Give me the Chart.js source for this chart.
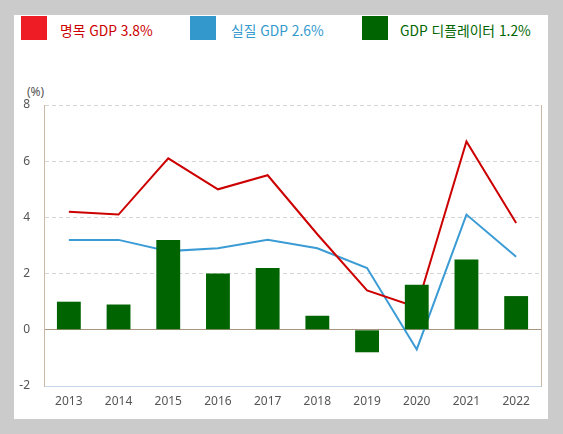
<!DOCTYPE html>
<html lang="ko">
<head>
<meta charset="utf-8">
<script src="https://cdn.jsdelivr.net/npm/chart.js@4/dist/chart.umd.min.js"></script>
<style>
  html, body { margin: 0; padding: 0; }
  body { width: 563px; height: 434px; background: #cbcbcb; position: relative; overflow: hidden;
         font-family: "Noto Sans CJK KR", "Noto Sans", sans-serif; }
  #panel { position: absolute; left: 14px; top: 15px; width: 534px; height: 404px; background: #fff; }
  #chart { position: absolute; left: 0; top: 0; }
  .box { position: absolute; top: 16px; width: 26px; height: 24px; }
  .lbl { position: absolute; top: 21px; font-size: 13.8px; line-height: 19px; white-space: nowrap; }
  #unit { position: absolute; left: 27px; top: 83px; font-size: 12px; color: #555; font-family: "Noto Sans", sans-serif; }
</style>
</head>
<body>
<div id="panel"></div>
<div class="box" style="left:21px;background:#ee1c25"></div>
<div class="lbl" style="left:60px;color:#cc0000">명목 GDP 3.8%</div>
<div class="box" style="left:190px;background:#3399cc"></div>
<div class="lbl" style="left:231px;color:#3399cc">실질 GDP 2.6%</div>
<div class="box" style="left:362px;background:#006400"></div>
<div class="lbl" style="left:400px;color:#006600">GDP 디플레이터 1.2%</div>
<div id="unit">(%)</div>
<canvas id="chart" width="563" height="434"></canvas>
<script>
// ── data ──
const years     = ['2013','2014','2015','2016','2017','2018','2019','2020','2021','2022'];
const nominal   = [4.2, 4.1, 6.1, 5.0, 5.5, 3.4, 1.4, 0.8, 6.7, 3.8];
const real      = [3.2, 3.2, 2.8, 2.9, 3.2, 2.9, 2.2, -0.7, 4.1, 2.6];
const deflator  = [1.0, 0.9, 3.2, 2.0, 2.2, 0.5, -0.8, 1.6, 2.5, 1.2];
const yTicks    = [-2, 0, 2, 4, 6, 8];

const tickFont = { family: '"Noto Sans", sans-serif', size: 12 };

new Chart(document.getElementById('chart'), {
  data: {
    labels: years,
    datasets: [
      { type: 'bar', label: 'GDP 디플레이터', data: deflator, order: 0,
        backgroundColor: '#006400', categoryPercentage: 0.96, barPercentage: 0.5 },
      { type: 'line', label: '명목 GDP', data: nominal, order: 1,
        borderColor: '#cc0000', borderWidth: 2, pointRadius: 0, tension: 0 },
      { type: 'line', label: '실질 GDP', data: real, order: 2,
        borderColor: '#3a9bd5', borderWidth: 2, pointRadius: 0, tension: 0 }
    ]
  },
  options: {
    responsive: false,
    animation: false,
    layout: { padding: { top: 105, right: 22, left: 0, bottom: 0 } },
    plugins: { legend: { display: false }, tooltip: { enabled: false } },
    scales: {
      x: {
        offset: true,
        grid: { display: false, drawTicks: false },
        border: { color: '#c5d7ea', width: 1 },
        ticks: { color: '#555', font: tickFont, padding: 8, maxRotation: 0 },
        afterFit: s => { s.height = 48; }
      },
      y: {
        min: -2, max: 8,
        afterBuildTicks: s => { s.ticks = yTicks.map(v => ({ value: v })); },
        grid: {
          drawTicks: false,
          color: c => {
            if (c.type !== 'tick') return '#d4d4d4';
            if (c.tick.value === 0) return '#a8957f';
            if (c.tick.value === -2) return 'rgba(0,0,0,0)';
            return '#d4d4d4';
          }
        },
        border: {
          color: '#c9b9a6', width: 1,
          dash: c => (c.type === 'tick' && c.tick.value !== 0) ? [4, 3] : []
        },
        ticks: { color: '#555', font: tickFont, padding: 14 },
        afterFit: s => { s.width = 44; }
      },
      y2: {
        position: 'right',
        min: -2, max: 8,
        grid: { drawOnChartArea: false, drawTicks: false },
        border: { color: '#c9b9a6', width: 1 },
        ticks: { display: false },
        afterFit: s => { s.width = 0; }
      }
    }
  }
});
</script>
</body>
</html>
